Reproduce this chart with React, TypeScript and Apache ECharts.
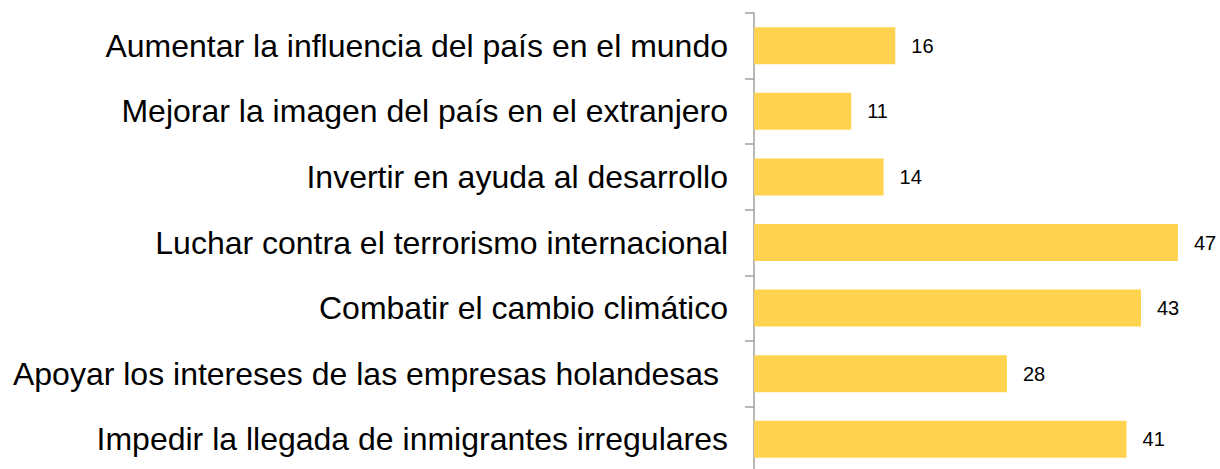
import React, { useEffect, useRef } from "react";
import * as echarts from "echarts";

const categories = [
  "Aumentar la influencia del país en el mundo",
  "Mejorar la imagen del país en el extranjero",
  "Invertir en ayuda al desarrollo",
  "Luchar contra el terrorismo internacional",
  "Combatir el cambio climático",
  "Apoyar los intereses de las empresas holandesas\u00a0",
  "Impedir la llegada de inmigrantes irregulares",
];
const values = [15.7, 10.8, 14.4, 47.1, 43.0, 28.1, 41.4];

export default function App() {
  const ref = useRef<HTMLDivElement>(null);
  useEffect(() => {
    if (!ref.current) return;
    const chart = echarts.init(ref.current, null, { renderer: "svg" });
    chart.setOption({
      animation: false,
      backgroundColor: "#ffffff",
      grid: { left: 754, top: 13, width: 450, height: 459 },
      xAxis: {
        type: "value",
        min: 0,
        max: 50,
        show: false,
      },
      yAxis: {
        type: "category",
        data: categories,
        inverse: true,
        axisLine: { show: true, lineStyle: { color: "#A0A0A0", width: 1.5 } },
        axisTick: { show: true, length: 9, lineStyle: { color: "#A0A0A0", width: 1.5 } },
        axisLabel: {
          margin: 26,
          fontSize: 32,
          color: "#000000",
          fontFamily: "Liberation Sans, Arial, sans-serif",
        },
        splitLine: { show: false },
      },
      series: [
        {
          type: "bar",
          data: values,
          barWidth: 37,
          itemStyle: { color: "#FFD34F" },
          label: {
            show: true,
            position: "right",
            distance: 16,
            fontSize: 20,
            color: "#000000",
            fontFamily: "Liberation Sans, Arial, sans-serif",
            formatter: (p: any) => String(Math.round(p.value)),
          },
        },
      ],
    });
    return () => chart.dispose();
  }, []);
  return (
    <div
      ref={ref}
      style={{ position: "fixed", left: 0, top: 0, width: 1220, height: 480 }}
    />
  );
}
